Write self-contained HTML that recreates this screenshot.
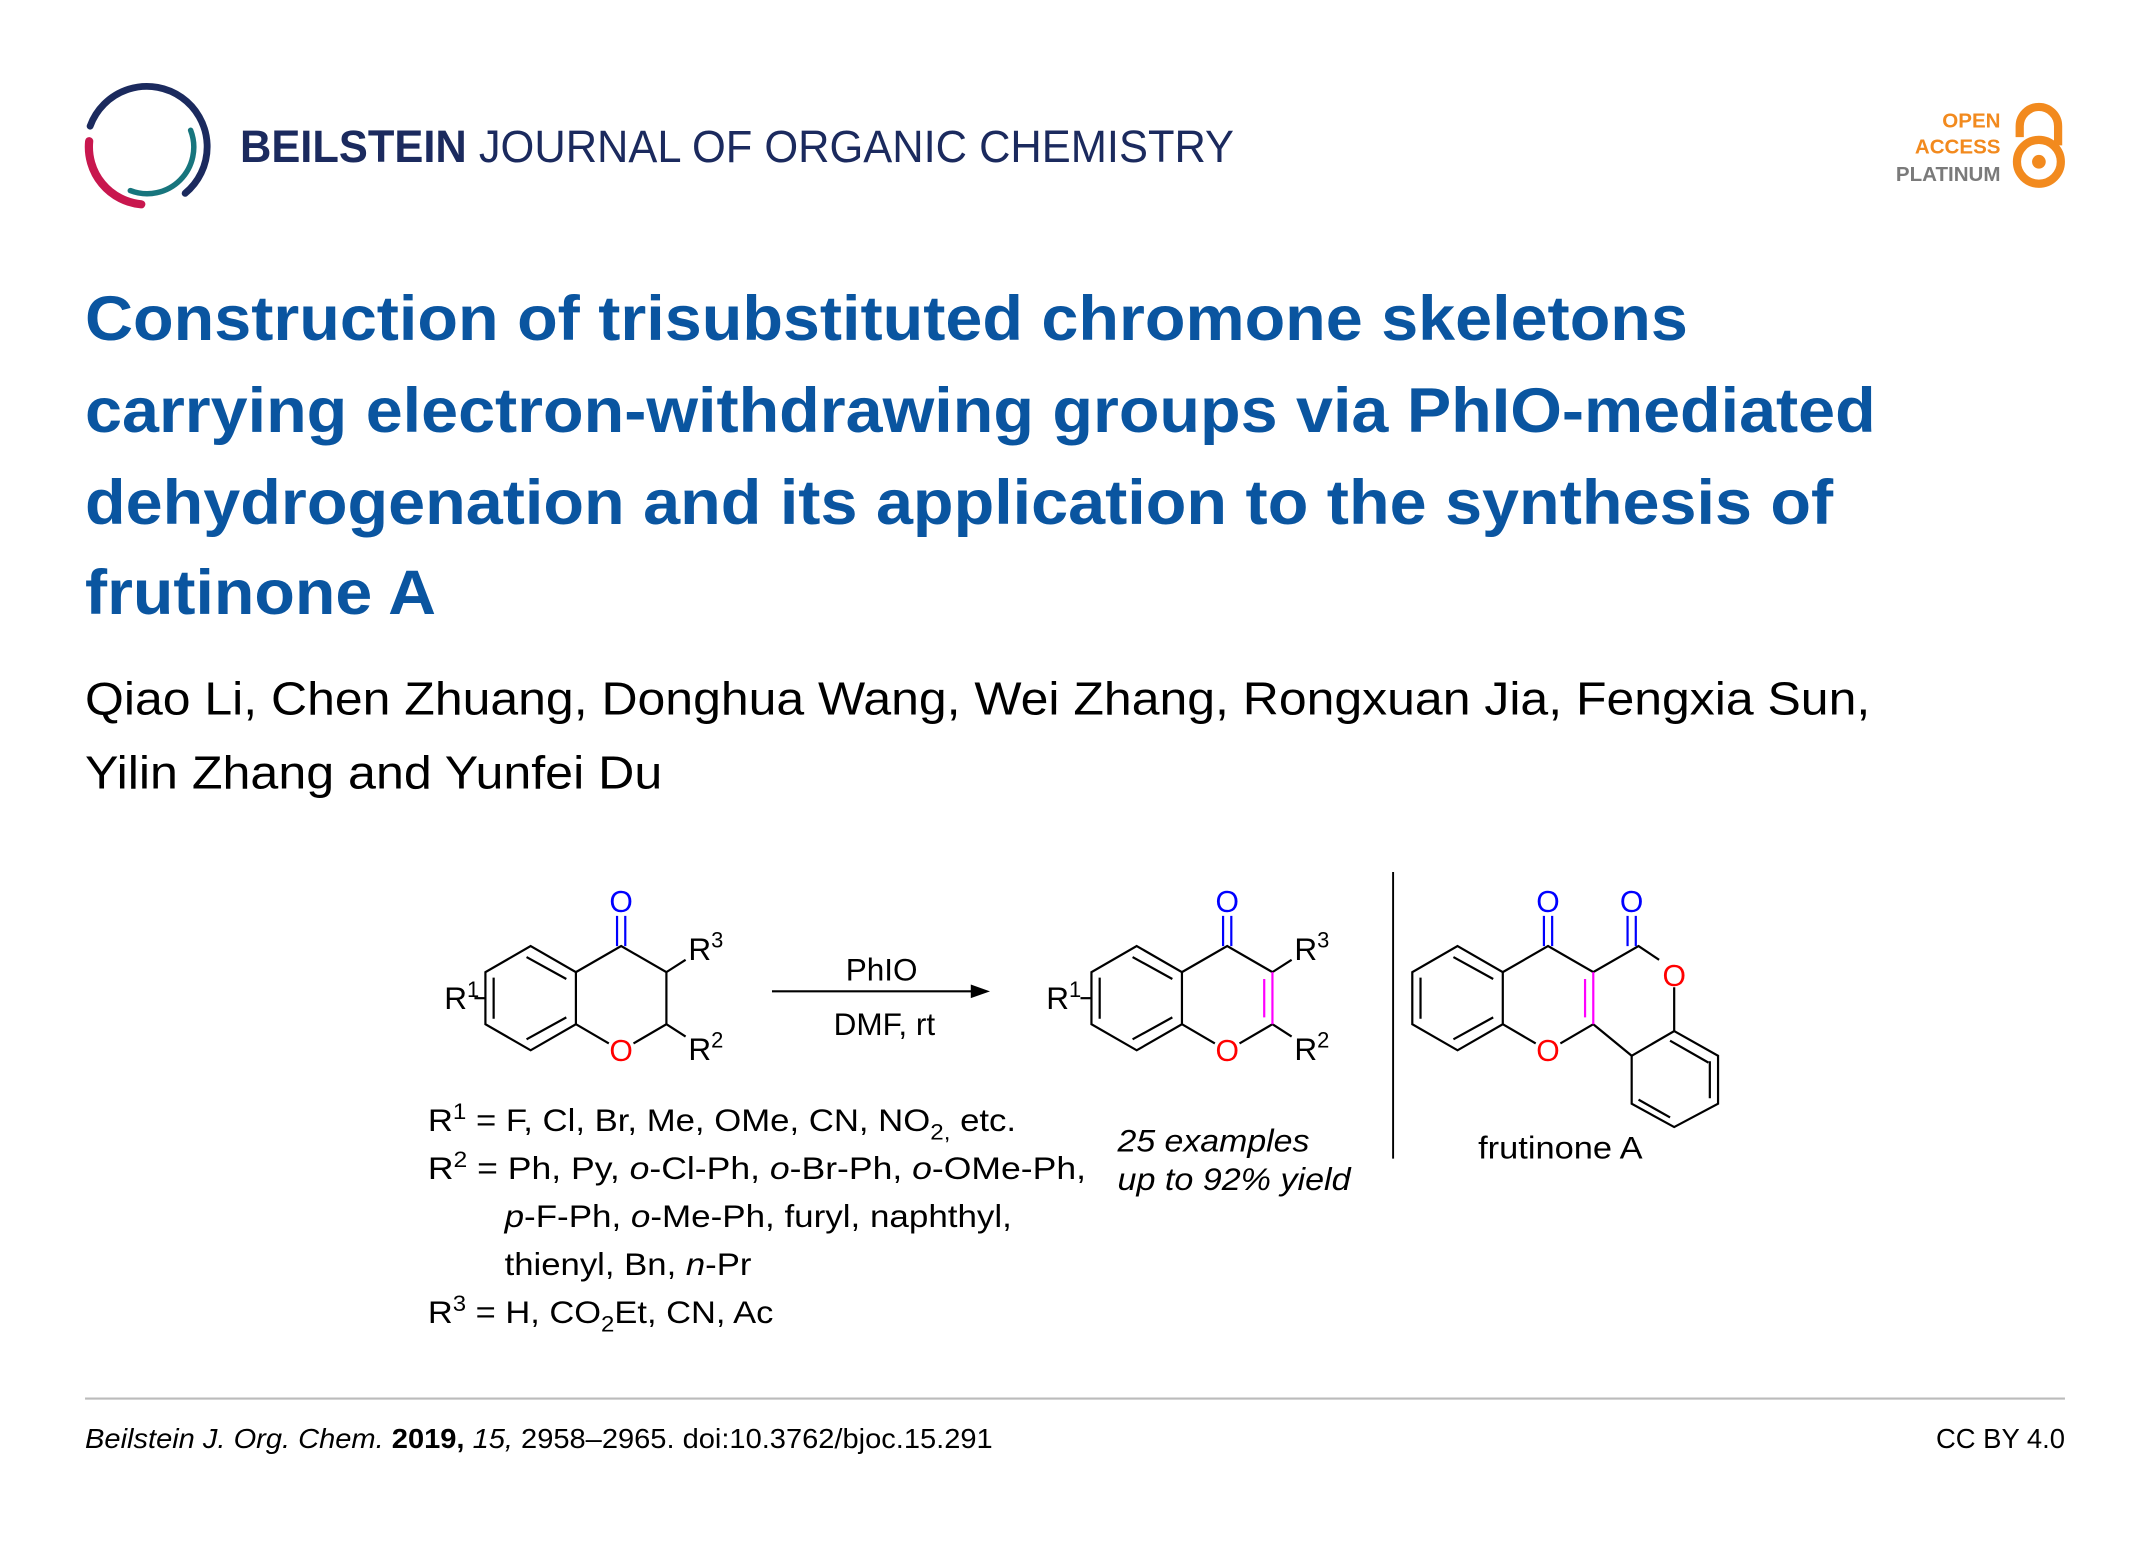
<!DOCTYPE html>
<html><head><meta charset="utf-8"><style>
html,body{margin:0;padding:0;background:#fff;}
svg{display:block;}
text{font-family:"Liberation Sans",Arial,sans-serif;}
</style></head><body>
<svg width="2150" height="1548" viewBox="0 0 1568 1129" xmlns="http://www.w3.org/2000/svg">
<rect width="1568" height="1129" fill="#fff"/>
<!-- logo -->
<g fill="none" stroke-linecap="round">
<path d="M65.7 92 A44 44 0 1 1 135 141" stroke="#1b2a5e" stroke-width="5"/>
<path d="M65 103 A42 42 0 0 0 103 149" stroke="#c8174e" stroke-width="6"/>
<path d="M139 95 A34 34 0 0 1 95 139" stroke="#17757d" stroke-width="4"/>
</g>
<text x="175" y="118" font-size="33" fill="#1b2a5e" textLength="725" lengthAdjust="spacingAndGlyphs"><tspan font-weight="bold">BEILSTEIN</tspan> JOURNAL OF ORGANIC CHEMISTRY</text>
<!-- open access -->
<g font-weight="bold" font-size="15" text-anchor="end">
<text x="1459" y="93" fill="#f28a1e">OPEN</text>
<text x="1459" y="112" fill="#f28a1e">ACCESS</text>
<text x="1459" y="132" fill="#7a7a7a">PLATINUM</text>
</g>
<circle cx="1487" cy="118" r="16" fill="none" stroke="#f28a1e" stroke-width="6"/>
<circle cx="1487" cy="118" r="5" fill="#f28a1e"/>
<path d="M1473 100 L1473 92 A14 14 0 0 1 1501 92 L1501 106" fill="none" stroke="#f28a1e" stroke-width="6"/>
<!-- title -->
<g font-weight="bold" font-size="46" fill="#0a55a0">
<text x="62" y="248" textLength="1169" lengthAdjust="spacingAndGlyphs">Construction of trisubstituted chromone skeletons</text>
<text x="62" y="315" textLength="1306" lengthAdjust="spacingAndGlyphs">carrying electron-withdrawing groups via PhIO-mediated</text>
<text x="62" y="382" textLength="1275" lengthAdjust="spacingAndGlyphs">dehydrogenation and its application to the synthesis of</text>
<text x="62" y="448" textLength="256" lengthAdjust="spacingAndGlyphs">frutinone A</text>
</g>
<g font-size="34" fill="#000">
<text x="62" y="521" textLength="1302" lengthAdjust="spacingAndGlyphs">Qiao Li, Chen Zhuang, Donghua Wang, Wei Zhang, Rongxuan Jia, Fengxia Sun,</text>
<text x="62" y="575" textLength="421" lengthAdjust="spacingAndGlyphs">Yilin Zhang and Yunfei Du</text>
</g>
<!-- scheme -->
<g stroke="#000" stroke-width="1.6" fill="none">
<path d="M387 690 L420 709 L420 747 L387 766 L354 747 L354 709 Z"/>
<path d="M384 698 L413 714 M413 742 L384 758 M360 713 L360 743"/>
<path d="M420 709 L453 690 L486 709 L486 747 L462 761 M444 761 L420 747"/>
<path d="M486 709 L500 700 M486 747 L500 756"/>
<path d="M354 728 L346 728"/>
<path d="M829 690 L862 709 L862 747 L829 766 L796 747 L796 709 Z"/>
<path d="M826 698 L855 714 M855 742 L826 758 M802 713 L802 743"/>
<path d="M862 709 L895 690 L928 709 M928 747 L904 761 M886 761 L862 747"/>
<path d="M928 709 L942 700 M928 747 L942 756"/>
<path d="M796 728 L788 728"/>
<path d="M1063 690 L1096 709 L1096 747 L1063 766 L1030 747 L1030 709 Z"/>
<path d="M1060 698 L1089 714 M1089 742 L1060 758 M1036 713 L1036 743"/>
<path d="M1096 709 L1129 690 L1162 709 L1195 690 L1210 700 M1221 720 L1221 752 L1190 770 L1162 747 L1138 761 M1120 761 L1096 747"/>
<path d="M1221 752 L1253 770 L1253 805 L1221 822 L1190 805 L1190 770"/>
<path d="M1247 774 L1247 801 M1218 815 L1195 802 M1218 759 L1246 775"/>
<path d="M563 723 L712 723"/>
<path d="M1016 636 L1016 845" stroke-width="1.4"/>
</g>
<path d="M722 723 L708 718 L708 728 Z" fill="#000"/>
<g stroke="#0000ff" stroke-width="1.6">
<path d="M450 690 L450 668 M456 690 L456 668"/>
<path d="M892 690 L892 668 M898 690 L898 668"/>
<path d="M1126 690 L1126 668 M1132 690 L1132 668"/>
<path d="M1187 690 L1187 668 M1193 690 L1193 668"/>
</g>
<g stroke="#ff00ff" stroke-width="1.6">
<path d="M928 709 L928 747 M922 714 L922 742"/>
<path d="M1162 709 L1162 747 M1156 714 L1156 742"/>
</g>
<g font-size="22" text-anchor="middle">
<text x="453" y="665" fill="#0000ff">O</text>
<text x="895" y="665" fill="#0000ff">O</text>
<text x="1129" y="665" fill="#0000ff">O</text>
<text x="1190" y="665" fill="#0000ff">O</text>
<text x="453" y="774" fill="#ff0000">O</text>
<text x="895" y="774" fill="#ff0000">O</text>
<text x="1129" y="774" fill="#ff0000">O</text>
<text x="1221" y="719" fill="#ff0000">O</text>
</g>
<g font-size="23" fill="#000">
<text x="502" y="700">R<tspan font-size="16" dy="-9">3</tspan></text>
<text x="502" y="773">R<tspan font-size="16" dy="-9">2</tspan></text>
<text x="324" y="736">R<tspan font-size="16" dy="-9">1</tspan></text>
<text x="944" y="700">R<tspan font-size="16" dy="-9">3</tspan></text>
<text x="944" y="773">R<tspan font-size="16" dy="-9">2</tspan></text>
<text x="763" y="736">R<tspan font-size="16" dy="-9">1</tspan></text>
<text x="643" y="715" text-anchor="middle">PhIO</text>
<text x="645" y="755" text-anchor="middle">DMF, rt</text>
<text x="312" y="825" textLength="429" lengthAdjust="spacingAndGlyphs">R<tspan font-size="16" dy="-9">1</tspan><tspan dy="9"> = F, Cl, Br, Me, OMe, CN, NO</tspan><tspan font-size="16" dy="6">2,</tspan><tspan dy="-6"> etc.</tspan></text>
<text x="312" y="860" textLength="480" lengthAdjust="spacingAndGlyphs">R<tspan font-size="16" dy="-9">2</tspan><tspan dy="9"> = Ph, Py, </tspan><tspan font-style="italic">o</tspan>-Cl-Ph, <tspan font-style="italic">o</tspan>-Br-Ph, <tspan font-style="italic">o</tspan>-OMe-Ph,</text>
<text x="368" y="895" textLength="370" lengthAdjust="spacingAndGlyphs"><tspan font-style="italic">p</tspan>-F-Ph, <tspan font-style="italic">o</tspan>-Me-Ph, furyl, naphthyl,</text>
<text x="368" y="930" textLength="180" lengthAdjust="spacingAndGlyphs">thienyl, Bn, <tspan font-style="italic">n</tspan>-Pr</text>
<text x="312" y="965" textLength="252" lengthAdjust="spacingAndGlyphs">R<tspan font-size="16" dy="-9">3</tspan><tspan dy="9"> = H, CO</tspan><tspan font-size="16" dy="6">2</tspan><tspan dy="-6">Et, CN, Ac</tspan></text>
<text x="815" y="840" font-style="italic" textLength="140" lengthAdjust="spacingAndGlyphs">25 examples</text>
<text x="815" y="868" font-style="italic" textLength="170" lengthAdjust="spacingAndGlyphs">up to 92% yield</text>
<text x="1078" y="845" textLength="120" lengthAdjust="spacingAndGlyphs">frutinone A</text>
</g>
<!-- footer -->
<line x1="62" y1="1020" x2="1506" y2="1020" stroke="#bbb" stroke-width="1.5"/>
<text x="62" y="1056" font-size="20" fill="#000" textLength="662" lengthAdjust="spacingAndGlyphs"><tspan font-style="italic">Beilstein J. Org. Chem.</tspan> <tspan font-weight="bold">2019,</tspan> <tspan font-style="italic">15,</tspan> 2958–2965. doi:10.3762/bjoc.15.291</text>
<text x="1506" y="1056" font-size="20" text-anchor="end" fill="#000">CC BY 4.0</text>
</svg>
</body></html>
